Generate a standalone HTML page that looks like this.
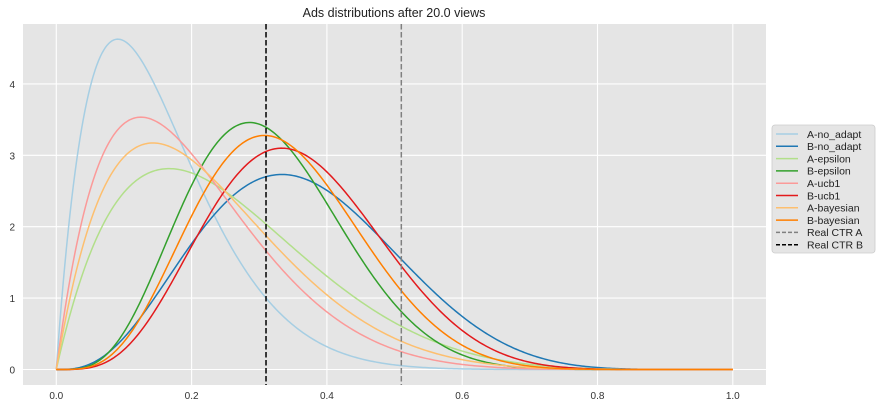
<!DOCTYPE html>
<html><head><meta charset="utf-8"><style>
body{margin:0;background:#fff;font-family:"Liberation Sans",sans-serif;}
svg text{font-family:"Liberation Sans",sans-serif;}
</style></head><body>
<svg id="chart" width="878" height="411" xmlns="http://www.w3.org/2000/svg">
<rect x="23" y="24" width="743" height="361" fill="#e5e5e5"/>
<g id="grid"></g>
<g id="series"></g>
<text x="394" y="17" text-anchor="middle" font-size="12.5" fill="#222">Ads distributions after 20.0 views</text>
<g id="ticks"></g>
<g id="legend"></g>
</svg>
<script>
const names=["A-no_adapt","B-no_adapt","A-epsilon","B-epsilon","A-ucb1","B-ucb1","A-bayesian","B-bayesian"];
const alphas=[2,4,2,5,2,5,2,5];
const betas=[11,7,6,11,8,9,7,10];
const colors=["#a6cee3","#1f78b4","#b2df8a","#33a02c","#fb9a99","#e31a1c","#fdbf6f","#ff7f00"];
const ctrNames=["Real CTR A","Real CTR B"];
const ctrValues=[0.51,0.31];
const ctrColors=["#808080","#000000"];
const xTicks=[0,0.2,0.4,0.6,0.8,1.0];
const xTickLabels=["0.0","0.2","0.4","0.6","0.8","1.0"];
const yTicks=[0,1,2,3,4];
const yTickLabels=["0","1","2","3","4"];

const NS="http://www.w3.org/2000/svg";
const X=v=>56.3+v*676.5;
const Y=v=>369.5-v*71.4;
function mk(tag,attrs,parent){const e=document.createElementNS(NS,tag);for(const k in attrs)e.setAttribute(k,attrs[k]);parent.appendChild(e);return e;}
function lgamma(n){let s=0;for(let i=2;i<n;i++)s+=Math.log(i);return s;}
function betaPdf(x,a,b){if(x<=0||x>=1)return 0;return Math.exp((a-1)*Math.log(x)+(b-1)*Math.log(1-x)+lgamma(a+b)-lgamma(a)-lgamma(b));}

const grid=document.getElementById('grid'),ticks=document.getElementById('ticks');
xTicks.forEach((t,i)=>{
  const l=mk('line',{x1:X(t),x2:X(t),y1:24,y2:385,stroke:'#fff','stroke-width':1.1},grid);
  
  
  const tx=mk('text',{x:X(t),y:399,'text-anchor':'middle','font-size':10,fill:'#333'},ticks);
  tx.textContent=xTickLabels[i];
  
  
});
yTicks.forEach((t,i)=>{
  const l=mk('line',{x1:23,x2:766,y1:Y(t),y2:Y(t),stroke:'#fff','stroke-width':1.1},grid);
  
  
  const tx=mk('text',{x:15,y:Y(t)+4,'text-anchor':'end','font-size':10,fill:'#333'},ticks);
  tx.textContent=yTickLabels[i];
  
  
});
const sg=document.getElementById('series');
names.forEach((n,i)=>{
  let d='';
  for(let k=0;k<=400;k++){const x=k/400;d+=(k?'L':'M')+X(x).toFixed(2)+','+Y(betaPdf(x,alphas[i],betas[i])).toFixed(2);}
  const p=mk('path',{d:d,fill:'none',stroke:colors[i],'stroke-width':1.5},sg);
  
  
});
ctrValues.forEach((v,i)=>{
  const l=mk('line',{x1:X(v),x2:X(v),y1:24,y2:385,stroke:ctrColors[i],'stroke-width':1.5,'stroke-dasharray':'5.5,2.5'},sg);
  
  
});
const lg=document.getElementById('legend');
const lr=mk('rect',{x:772,y:125,width:103,height:128,rx:3,fill:'#e5e5e5',stroke:'#ccc','stroke-width':0.8},lg);


const allNames=names.concat(ctrNames),allColors=colors.concat(ctrColors);
allNames.forEach((n,i)=>{
  const y=134+i*12.3;
  const g=mk('g',{},lg);
  
  
  const attrs={x1:776,x2:798,y1:y,y2:y,stroke:allColors[i],'stroke-width':1.5};
  if(i>=names.length)attrs['stroke-dasharray']='4,2';
  mk('line',attrs,g);
  const t=mk('text',{x:807,y:y+3.8,'font-size':10.5,fill:'#222'},g);
  t.textContent=n;
});
</script>
</body></html>
